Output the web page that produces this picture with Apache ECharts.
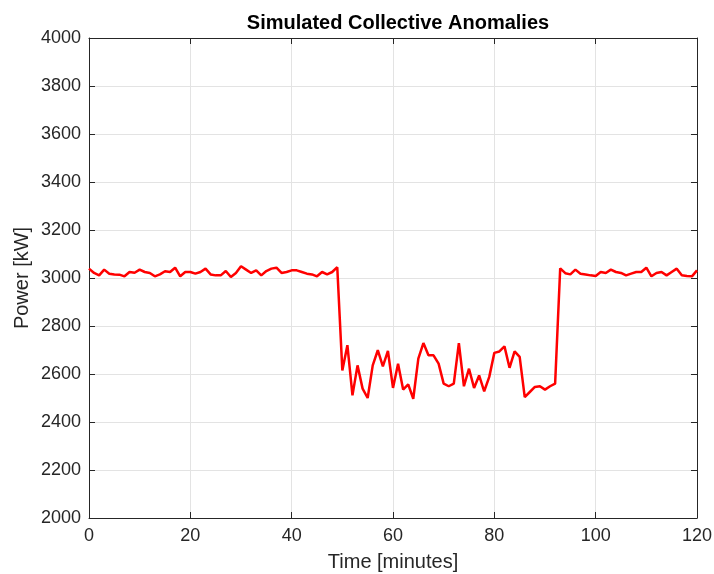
<!DOCTYPE html>
<html>
<head>
<meta charset="utf-8">
<script src="https://cdn.jsdelivr.net/npm/echarts@6/dist/echarts.min.js"></script>
<style>
html,body{margin:0;padding:0;background:#fff;}
#chart{width:714px;height:574px;}
</style>
</head>
<body>
<div id="chart"></div>
<script>
var titleText = 'Simulated Collective Anomalies';
var xName = 'Time [minutes]';
var yName = 'Power [kW]';
var minutes = [];
for (var i = 0; i <= 120; i++) minutes.push(i);
var power = [
  3039, 3021, 3011, 3035, 3018, 3015, 3014, 3007, 3025, 3022,
  3035, 3025, 3021, 3007, 3015, 3028, 3025, 3043, 3007, 3025,
  3025, 3018, 3025, 3039, 3015, 3011, 3011, 3029, 3004, 3021,
  3049, 3035, 3021, 3032, 3011, 3029, 3039, 3043, 3021, 3025,
  3032, 3032, 3025, 3018, 3015, 3007, 3025, 3015, 3025, 3045,
  2615, 2720, 2511, 2636, 2539, 2500, 2636, 2699, 2632, 2696,
  2542, 2643, 2535, 2557, 2497, 2664, 2729, 2678, 2678, 2643,
  2560, 2549, 2560, 2729, 2549, 2622, 2542, 2594, 2528, 2588,
  2688, 2694, 2715, 2626, 2694, 2671, 2504, 2525, 2546, 2549,
  2535, 2549, 2560, 3040, 3020, 3015, 3035, 3018, 3015, 3011,
  3008, 3025, 3021, 3035, 3025, 3021, 3011, 3018, 3025, 3025,
  3043, 3007, 3021, 3025, 3011, 3025, 3039, 3011, 3008, 3007,
  3032
];
var xTicks = [0, 20, 40, 60, 80, 100, 120];
var yTicks = [2000, 2200, 2400, 2600, 2800, 3000, 3200, 3400, 3600, 3800, 4000];

var data = minutes.map(function (m, i) { return [m, power[i]]; });
var font = 'Liberation Sans, Arial, Helvetica, sans-serif';
var axisCol = '#262626';
var plain = function (v) { return String(v); };

var chart = echarts.init(document.getElementById('chart'), null, {renderer: 'canvas'});
chart.setOption({
  animation: false,
  backgroundColor: '#ffffff',
  title: {
    text: titleText, left: 393, textAlign: 'center', top: 8,
    textStyle: {fontFamily: font, fontSize: 20, fontWeight: 'bold', color: '#000'}
  },
  grid: {left: 89, right: 17, top: 38, bottom: 56, containLabel: false, outerBoundsMode: 'none'},
  xAxis: [{
    type: 'value', min: xTicks[0], max: xTicks[xTicks.length - 1], interval: 20,
    name: xName, nameLocation: 'middle', nameGap: 34,
    nameTextStyle: {fontFamily: font, fontSize: 20, color: axisCol},
    axisLine: {show: true, onZero: false, lineStyle: {color: axisCol, width: 1}},
    axisTick: {show: true, inside: true, length: 6, lineStyle: {color: axisCol}},
    axisLabel: {fontFamily: font, fontSize: 18, color: axisCol, margin: 9, formatter: plain},
    splitLine: {show: true, lineStyle: {color: '#e3e3e3', width: 1}}
  }, {
    type: 'value', position: 'top', min: xTicks[0], max: xTicks[xTicks.length - 1], interval: 20,
    axisLine: {show: true, onZero: false, lineStyle: {color: axisCol, width: 1}},
    axisTick: {show: true, inside: true, length: 6, lineStyle: {color: axisCol}},
    axisLabel: {show: false}, splitLine: {show: false}
  }],
  yAxis: [{
    type: 'value', min: yTicks[0], max: yTicks[yTicks.length - 1], interval: 200,
    name: yName, nameLocation: 'middle', nameGap: 57, nameMoveOverlap: false,
    nameTextStyle: {fontFamily: font, fontSize: 20, color: axisCol},
    axisLine: {show: true, onZero: false, lineStyle: {color: axisCol, width: 1}},
    axisTick: {show: true, inside: true, length: 6, lineStyle: {color: axisCol}},
    axisLabel: {fontFamily: font, fontSize: 18, color: axisCol, margin: 8, formatter: plain},
    splitLine: {show: true, lineStyle: {color: '#e3e3e3', width: 1}}
  }, {
    type: 'value', position: 'right', min: yTicks[0], max: yTicks[yTicks.length - 1], interval: 200,
    axisLine: {show: true, onZero: false, lineStyle: {color: axisCol, width: 1}},
    axisTick: {show: true, inside: true, length: 6, lineStyle: {color: axisCol}},
    axisLabel: {show: false}, splitLine: {show: false}
  }],
  series: [{
    type: 'line', data: data, xAxisIndex: 0, yAxisIndex: 0,
    showSymbol: false, symbol: 'none',
    lineStyle: {color: '#ff0000', width: 2.5},
    itemStyle: {color: '#ff0000'}
  }]
});
</script>
</body>
</html>
